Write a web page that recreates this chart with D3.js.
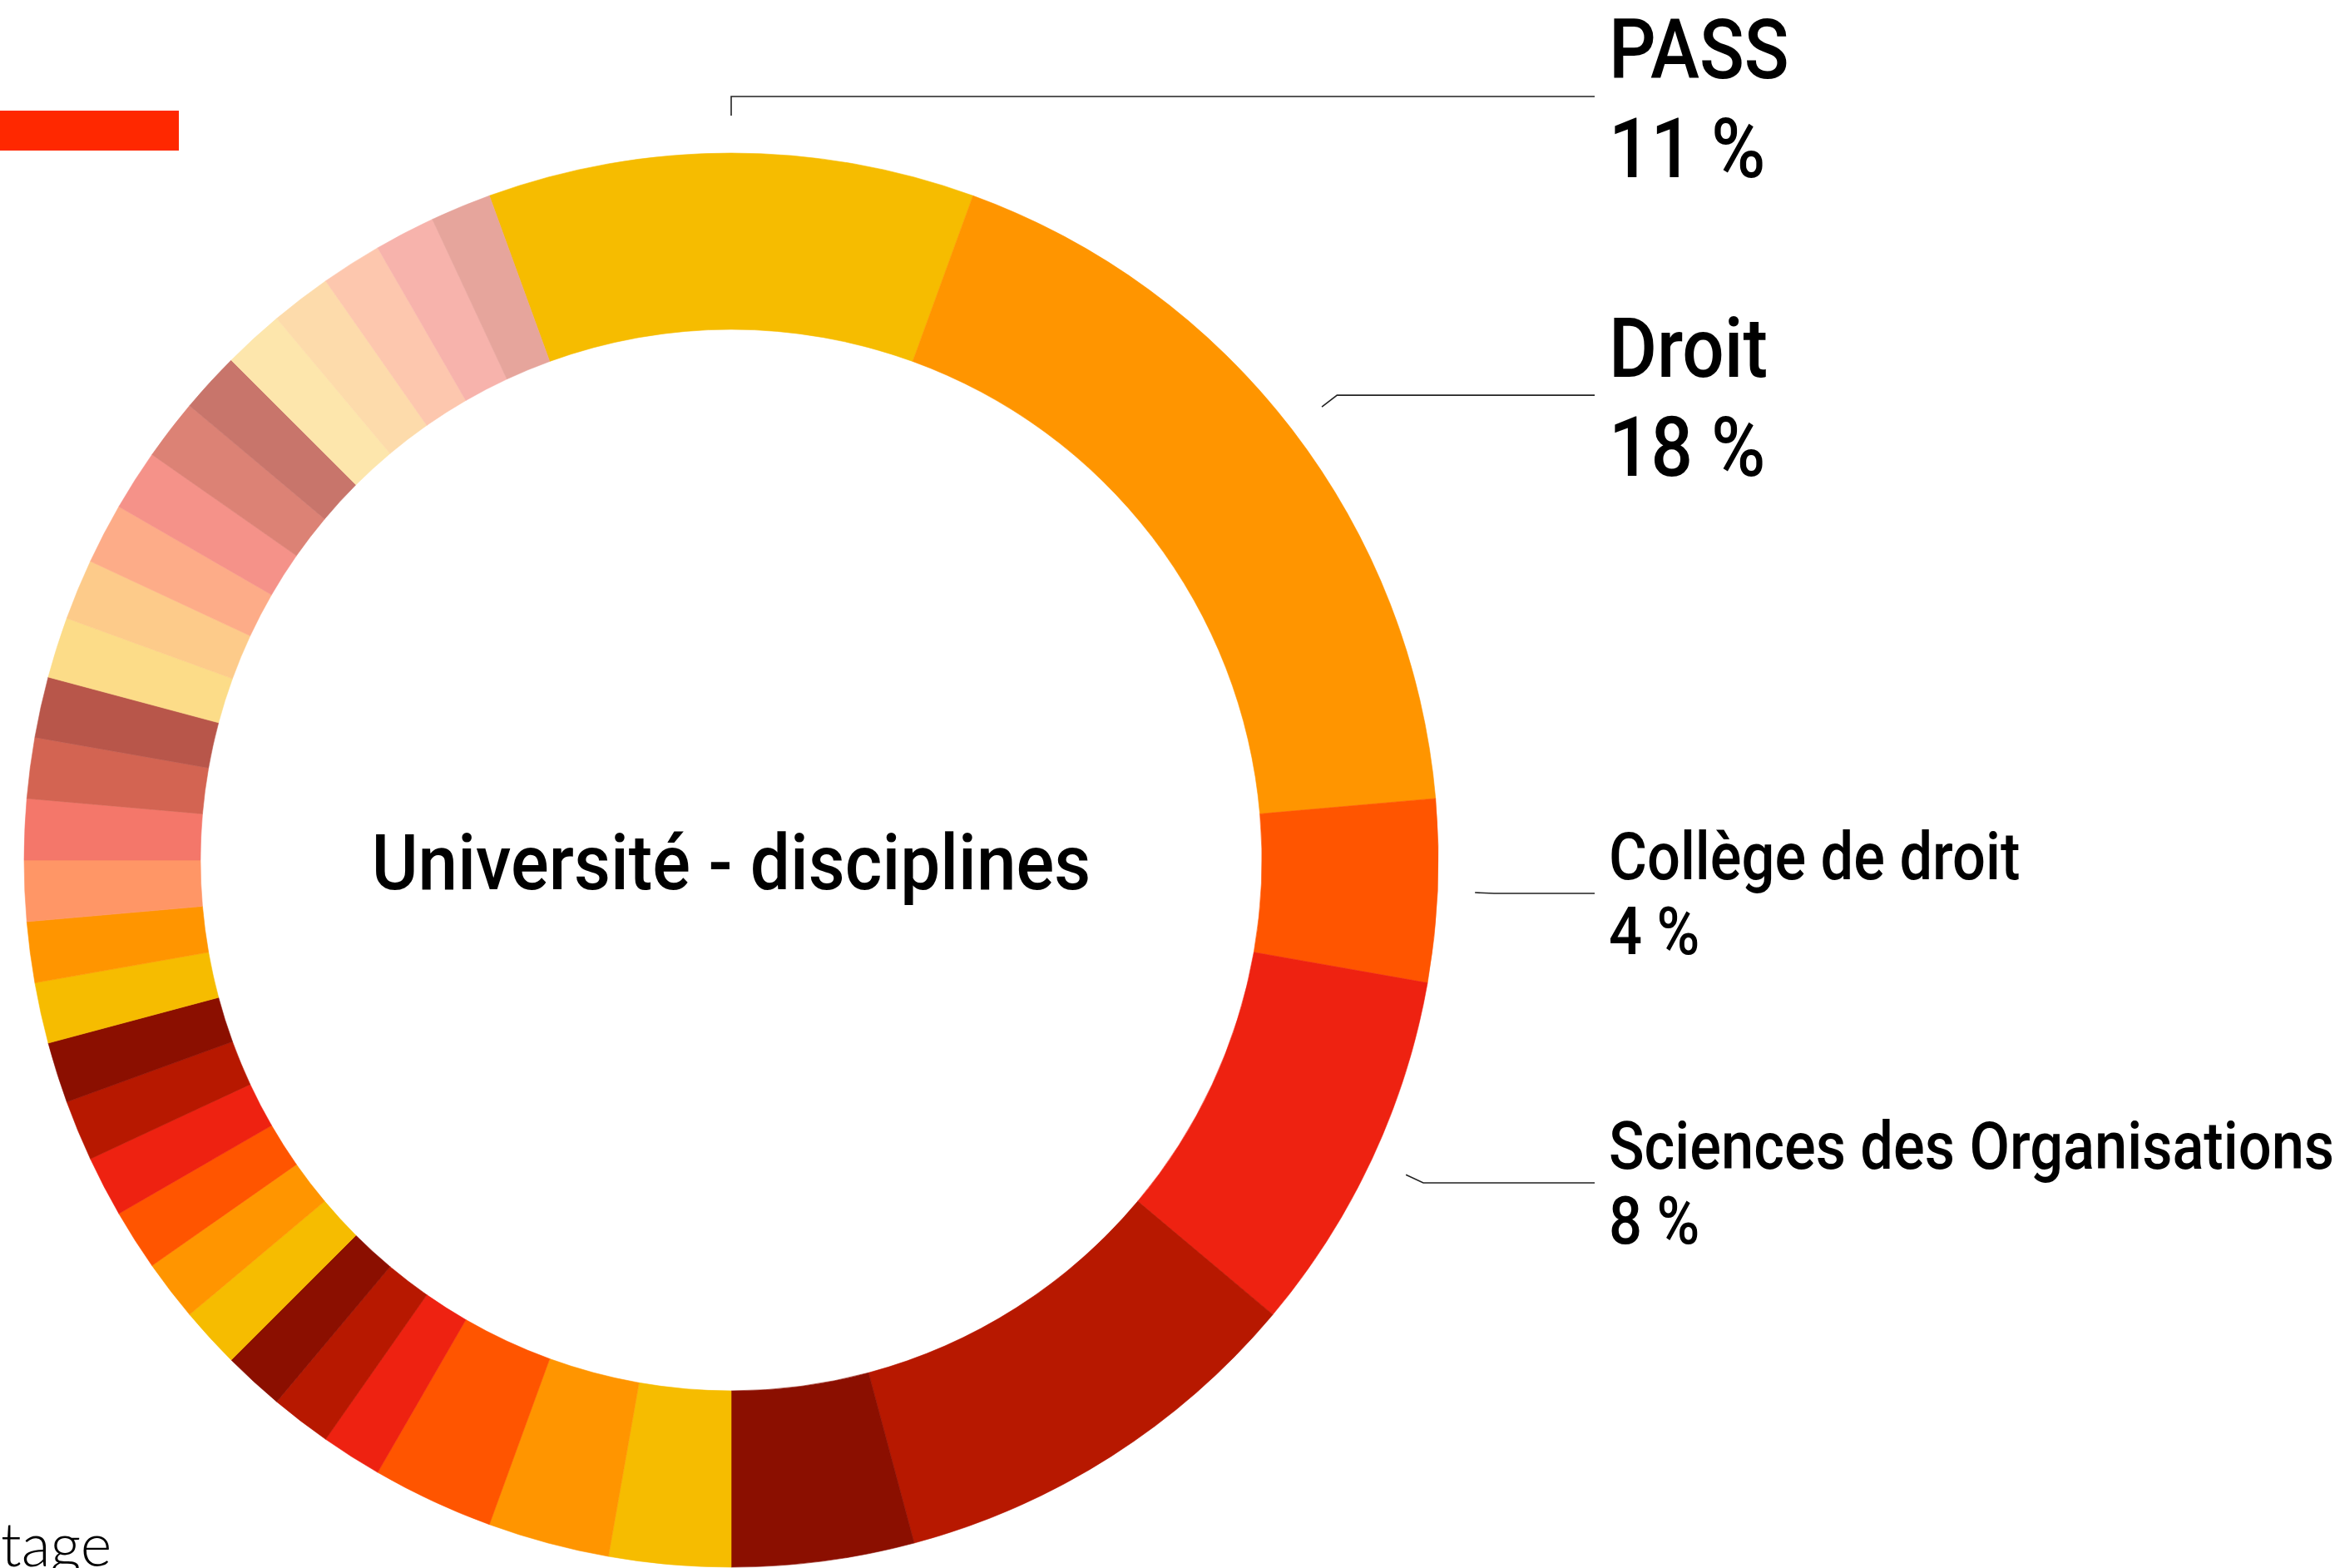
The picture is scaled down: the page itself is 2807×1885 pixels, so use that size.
<!DOCTYPE html>
<html>
<head>
  <meta charset="utf-8">
  <title>Université - disciplines</title>
  <script src="https://d3js.org/d3.v7.min.js"></script>
  <style>
    html, body { margin: 0; padding: 0; background: #fff; }
    svg { display: block; }
    .lbl, .center { font-family: Roboto, "DejaVu Sans", sans-serif; font-weight: 500; fill: #000; }
    .axis-title { font-family: Lato, "Open Sans", sans-serif; font-weight: 300; fill: #000; }
    .tick-line { fill: none; stroke: #222; stroke-width: 1.6; }
  </style>
</head>
<body>
  <svg id="chart" width="2807" height="1885"></svg>

  <script>
    // shares of the ring (in 72nds), clockwise from PASS
    const categories = [
      "PASS", "Droit", "Collège de droit", "Sciences des Organisations",
      "Discipline 5", "Discipline 6", "Discipline 7", "Discipline 8", "Discipline 9",
      "Discipline 10", "Discipline 11", "Discipline 12", "Discipline 13", "Discipline 14",
      "Discipline 15", "Discipline 16", "Discipline 17", "Discipline 18", "Discipline 19",
      "Discipline 20", "Discipline 21", "Discipline 22", "Discipline 23", "Discipline 24",
      "Discipline 25", "Discipline 26", "Discipline 27", "Discipline 28", "Discipline 29",
      "Discipline 30", "Discipline 31", "Discipline 32", "Discipline 33", "Discipline 34",
      "Discipline 35"
    ];
    const values = [
      8, 13, 3, 6, 7, 3, 2, 2, 2,
      1, 1, 1, 1, 1, 1, 1, 1, 1, 1, 1, 1, 1,
      1, 1, 1, 1, 1, 1, 1, 1, 1, 1, 1, 1, 1
    ];
    const colors = [
      "#f6bc00", "#ff9500", "#ff5500", "#ee2211", "#b71800", "#8b0f00",
      "#f6bc00", "#ff9500", "#ff5500", "#ee2211", "#b71800", "#8b0f00",
      "#f6bc00", "#ff9500", "#ff5500", "#ee2211", "#b71800", "#8b0f00",
      "#f6bc00", "#ff9500", "#ff9666", "#f4776a", "#d36452", "#b8564a",
      "#fcdc88", "#fdcb8a", "#fdac88", "#f59289", "#dc8275", "#c8756b",
      "#fde6ac", "#fddbab", "#fdc7ae", "#f7b3ac", "#e6a59c"
    ];
    const labeled = ["PASS", "Droit", "Collège de droit", "Sciences des Organisations"];
    const title = "Université - disciplines";

    const svg = d3.select("#chart");
    const cx = 879, cy = 1034;
    const outerR = 850, innerR = 638;
    const labelX = 1917;
    const narrow = 0.88; // fake a condensed face

    const data = categories.map((c, i) => ({ name: c, value: values[i], color: colors[i] }));
    const total = d3.sum(values);
    const start = -Math.PI * values[0] / total;

    const pie = d3.pie()
      .sort(null)
      .value(d => d.value)
      .startAngle(start)
      .endAngle(start + 2 * Math.PI);

    const arc = d3.arc().innerRadius(innerR).outerRadius(outerR);
    const arcs = pie(data);

    const g = svg.append("g").attr("transform", `translate(${cx},${cy})`);

    g.selectAll("path")
      .data(arcs)
      .join("path")
      .attr("d", arc)
      .attr("fill", d => d.data.color)
      .attr("stroke", d => d.data.color)
      .attr("stroke-width", 0.6);

    // centre title
    g.append("text")
      .attr("class", "center")
      .attr("text-anchor", "middle")
      .attr("transform", `translate(0,35) scale(0.92,1)`)
      .attr("font-size", 93)
      .text(title);

    // outside labels
    const pct = d3.format(".0f");
    const pt = (a, r) => [Math.sin(a) * r, -Math.cos(a) * r];

    arcs.filter(d => labeled.includes(d.data.name)).forEach(d => {
      const mid = (d.startAngle + d.endAngle) / 2;
      const p1 = pt(mid, outerR + 45);
      const p2 = pt(mid, outerR + 68);
      const ly = p2[1];
      const share = d.value / total * 100;
      const big = share >= 10;
      const tx = labelX - cx + 17;

      g.append("polyline")
        .attr("class", "tick-line")
        .attr("points", [p1, p2, [labelX - cx, ly]].map(p => p.join(",")).join(" "));

      g.append("text")
        .attr("class", "lbl")
        .attr("transform", `translate(${tx},${ly + (big ? -22 : -17)}) scale(${narrow},1)`)
        .attr("font-size", big ? 101 : 80)
        .text(d.data.name);

      g.append("text")
        .attr("class", "lbl")
        .attr("transform", `translate(${tx},${ly + (big ? 97 : 73)}) scale(${narrow},1)`)
        .attr("font-size", big ? 101 : 80)
        .text(pct(share) + " %");
    });

    // clipped legend swatch and axis title at the left edge
    svg.append("rect")
      .attr("x", 0).attr("y", 133)
      .attr("width", 215).attr("height", 48)
      .attr("fill", "#ff2800");

    const axisTitle = svg.append("text")
      .attr("class", "axis-title")
      .attr("y", 1883)
      .attr("text-anchor", "end")
      .attr("font-size", 72)
      .text("Pourcentage");
    // only the tail of the word shows, starting at the left edge
    const probe = svg.append("text").attr("class", "axis-title").attr("font-size", 72).text("tage");
    const tail = probe.node().getComputedTextLength();
    probe.remove();
    axisTitle.attr("x", tail + 1);
  </script>
</body>
</html>
